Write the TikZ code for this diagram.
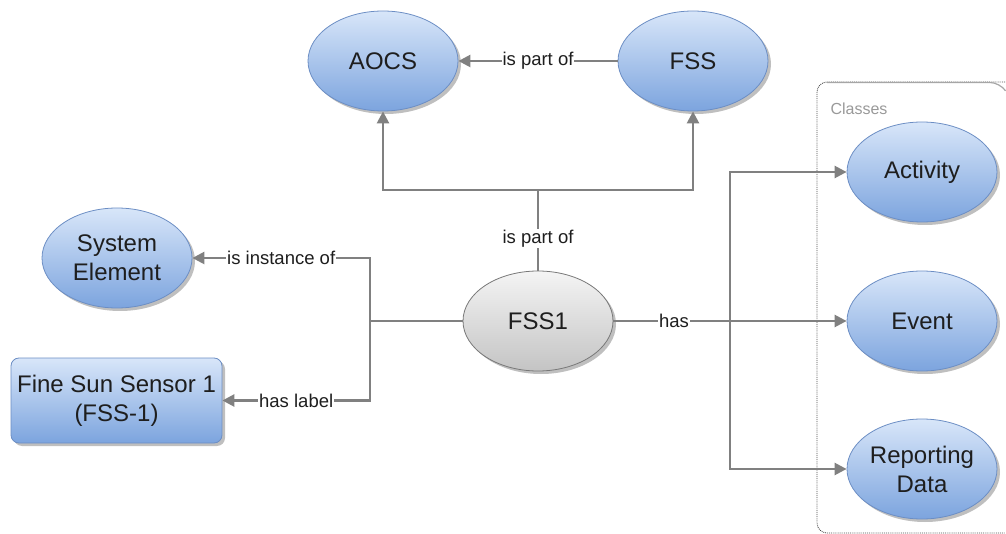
\documentclass[tikz,border=0pt]{standalone}
\usepackage{fontspec}
\setmainfont{Liberation Sans}
\usetikzlibrary{arrows.meta,shapes.geometric,shadows}
\definecolor{linegray}{RGB}{128,128,128}
\definecolor{bluetop}{RGB}{216,230,249}
\definecolor{bluebot}{RGB}{124,164,222}
\definecolor{blueedge}{RGB}{108,142,196}
\definecolor{graytop}{RGB}{244,244,244}
\definecolor{graybot}{RGB}{196,196,196}
\definecolor{grayedge}{RGB}{120,120,120}
\definecolor{txt}{RGB}{30,30,30}
\tikzset{
  shad/.style={drop shadow={shadow xshift=3pt,shadow yshift=-3pt,opacity=0.25,fill=black}},
  bluenode/.style={ellipse, minimum width=150pt, minimum height=100pt, inner sep=0pt,
    top color=bluetop, bottom color=bluebot, draw=blueedge, line width=0.8pt, shad,
    font=\fontsize{24}{29}\selectfont, text=txt, align=center},
  graynode/.style={bluenode, top color=graytop, bottom color=graybot, draw=grayedge},
  boxnode/.style={rectangle, rounded corners=8pt, minimum width=211pt, minimum height=85pt, inner sep=0pt,
    top color=bluetop, bottom color=bluebot, draw=blueedge, line width=0.8pt, shad,
    font=\fontsize{24}{29}\selectfont, text=txt, align=center},
  conn/.style={draw=linegray, line width=2.5pt},
  arr/.style={conn, -{Triangle[length=12pt,width=12pt]}},
  lbl/.style={fill=white, inner sep=1pt, font=\fontsize{18.5}{20}\selectfont, text=txt},
}
\begin{document}
\begin{tikzpicture}[x=1pt,y=-1pt]
\useasboundingbox (0,0) rectangle (1006,534);
% Classes container
\draw[densely dotted, line width=0.9pt, draw=black!70, rounded corners=10pt]
  (1005,82) -- (817,82) -- (817,533) -- (1005,533);
\draw[line width=1.2pt, draw=black!35, rounded corners=10pt] (827,82.5) -- (1000,82.5) -- (1005,90);
\node[text=black!40, font=\fontsize{16}{18}\selectfont, anchor=west] (classes) at (827,109) {Classes};

\node[bluenode] (AOCS) at (383,61) {AOCS};
\node[bluenode] (FSS) at (693,61) {FSS};
\node[bluenode] (SysEl) at (117,258) {System\\Element};
\node[boxnode] (FSSbox) at (116.5,400.5) {Fine Sun Sensor 1\\(FSS-1)};
\node[graynode] (FSS1) at (538,321) {FSS1};
\node[bluenode] (Activity) at (922,172) {Activity};
\node[bluenode] (Event) at (922,321) {Event};
\node[bluenode] (Report) at (922,469) {Reporting\\Data};

\coordinate (jt) at (538,190);
\coordinate (jl) at (370,321);
\coordinate (jr) at (730,321);

\draw[arr] (FSS) -- node[lbl]{is part of} (AOCS);
\draw[conn] (FSS1) -- node[lbl,pos=0.4]{is part of} (jt);
\draw[arr] (jt) -| (AOCS.south);
\draw[arr] (jt) -| (FSS.south);

\draw[conn] (FSS1) -- (jl);
\draw[arr] (jl) |- node[lbl,pos=0.75]{is instance of} (SysEl.east);
\draw[arr] (jl) |- node[lbl,pos=0.75]{has label} (FSSbox.east);

\draw[conn] (FSS1) -- node[lbl,pos=0.52]{has} (jr);
\draw[arr] (jr) -- (Event.west);
\draw[arr] (jr) |- (Activity.west);
\draw[arr] (jr) |- (Report.west);
\end{tikzpicture}
\end{document}
